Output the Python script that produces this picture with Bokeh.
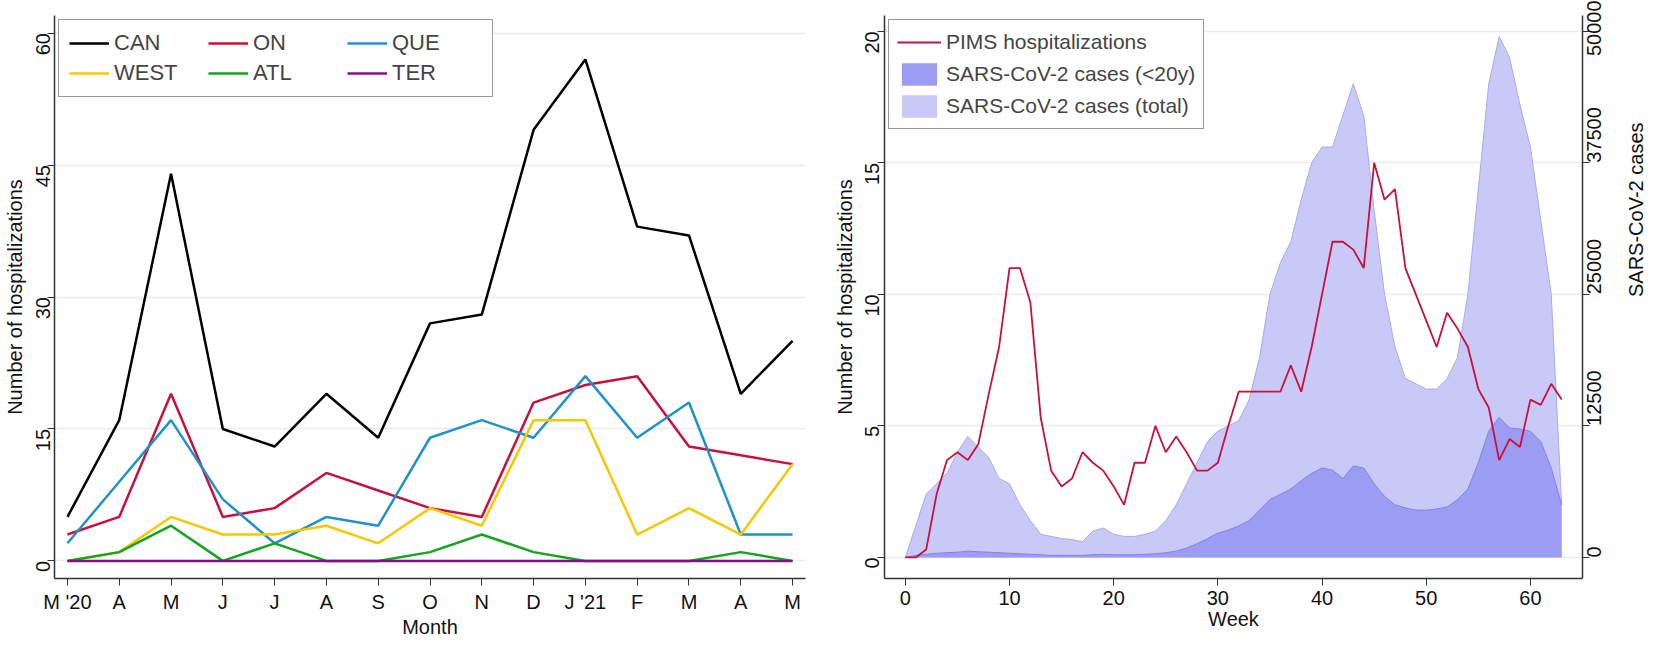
from math import pi
from bokeh.plotting import figure
from bokeh.models import Range1d, LinearAxis, Legend, LegendItem, FixedTicker
from bokeh.layouts import row
from bokeh.embed import file_html
from bokeh.resources import INLINE

# left panel: monthly hospitalizations by region
months = ["M '20", "A", "M", "J", "J", "A", "S", "O", "N", "D", "J '21", "F", "M", "A", "M"]
can = [5, 16, 44, 15, 13, 19, 14, 27, 28, 49, 57, 38, 37, 19, 25]
on = [3, 5, 19, 5, 6, 10, 8, 6, 5, 18, 20, 21, 13, 12, 11]
que = [2, 9, 16, 7, 2, 5, 4, 14, 16, 14, 21, 14, 18, 3, 3]
west = [0, 1, 5, 3, 3, 4, 2, 6, 4, 16, 16, 3, 6, 3, 11]
atl = [0, 1, 4, 0, 2, 0, 0, 1, 3, 1, 0, 0, 0, 1, 0]
ter = [0] * 15

# right panel: weekly PIMS hospitalizations and SARS-CoV-2 cases
weeks = list(range(64))
pims = [0, 0, 0.3, 2.4, 3.7, 4.0, 3.7, 4.3, 6.2, 8.0, 11, 11, 9.7, 5.3, 3.3, 2.7,
        3.0, 4.0, 3.6, 3.3, 2.7, 2.0, 3.6, 3.6, 5.0, 4.0, 4.6, 4.0, 3.3, 3.3, 3.6, 5.0,
        6.3, 6.3, 6.3, 6.3, 6.3, 7.3, 6.3, 8.0, 10, 12, 12, 11.7, 11, 15, 13.6, 14,
        11, 10, 9, 8, 9.3, 8.7, 8.0, 6.4, 5.7, 3.7, 4.5, 4.2, 6.0, 5.8, 6.6, 6.0]
cases_total = [0, 3000, 6000, 7000, 8000, 10000, 11500, 10500, 9500, 7500, 7000, 5000,
               3500, 2200, 2000, 1800, 1700, 1500, 2500, 2800, 2200, 2000, 2000, 2200,
               2500, 3500, 5000, 7000, 9000, 11000, 12000, 12500, 13000, 15000, 19000,
               25000, 28000, 30000, 34000, 37500, 39000, 39000, 42000, 45000, 42000,
               33000, 25000, 20000, 17000, 16500, 16000, 16000, 17000, 19000, 25000,
               35000, 45000, 49500, 47500, 43000, 39000, 32000, 25000, 5000]
cases_u20 = [0, 200, 300, 400, 450, 500, 600, 550, 500, 450, 400, 350, 300, 250, 200,
             200, 200, 200, 250, 300, 250, 250, 250, 300, 350, 450, 600, 900, 1300,
             1800, 2300, 2600, 3000, 3500, 4500, 5500, 6000, 6500, 7300, 8000, 8500,
             8300, 7500, 8700, 8500, 7000, 5800, 5000, 4700, 4500, 4500, 4600, 4800,
             5500, 6500, 9000, 12000, 13300, 12300, 12200, 12000, 11000, 8500, 5000]

FONT = "Liberation Sans"


def style(p):
    p.background_fill_color = "white"
    p.border_fill_color = "white"
    p.outline_line_color = None
    p.xgrid.visible = False
    p.ygrid.grid_line_color = "#ececec"
    p.ygrid.grid_line_width = 1.5
    for ax in p.xaxis + p.yaxis:
        ax.axis_line_color = "#333333"
        ax.axis_line_width = 1.5
        ax.major_tick_line_color = "#333333"
        ax.minor_tick_line_color = None
        ax.major_tick_out = 7
        ax.major_tick_in = 0
        ax.major_label_text_font = FONT
        ax.major_label_text_font_size = "20px"
        ax.major_label_text_color = "#111111"
        ax.axis_label_text_font = FONT
        ax.axis_label_text_font_size = "20px"
        ax.axis_label_text_font_style = "normal"
        ax.axis_label_text_color = "#111111"
        ax.axis_label_standoff = 0


x = list(range(len(months)))
p1 = figure(width=830, height=640, output_backend="svg", toolbar_location=None,
            x_range=Range1d(-0.25, 14.25), y_range=Range1d(-2, 62),
            min_border_left=5, min_border_right=25, min_border_top=15)
style(p1)
p1.xaxis.ticker = FixedTicker(ticks=x)
p1.xaxis.major_label_overrides = {i: m for i, m in enumerate(months)}
p1.xaxis.axis_label = "Month"
p1.yaxis.ticker = FixedTicker(ticks=[0, 15, 30, 45, 60])
p1.yaxis.major_label_orientation = pi / 2
p1.yaxis.axis_label = "Number of hospitalizations"

series = [("CAN", can, "black"), ("ON", on, "#c8103e"), ("QUE", que, "#1f93c8"),
          ("WEST", west, "#f5c800"), ("ATL", atl, "#12a51e"), ("TER", ter, "#8a0a8a")]
items = []
for name, ys, col in series:
    r = p1.line(x, ys, line_color=col, line_width=2.5)
    items.append(LegendItem(label=name, renderers=[r]))
leg1 = Legend(items=items, location="top_left", ncols=3, orientation="horizontal",
              label_text_font=FONT, label_text_font_size="22px", glyph_width=40,
              label_width=90, spacing=4, padding=10, margin=4,
              border_line_color="#333333", border_line_width=1.5)
p1.add_layout(leg1)

p2 = figure(width=830, height=640, output_backend="svg", toolbar_location=None,
            x_range=Range1d(-2, 65), y_range=Range1d(-0.8, 20.6),
            min_border_left=10, min_border_right=5, min_border_top=15)
p2.extra_y_ranges = {"cases": Range1d(-2000, 51500)}
style(p2)
r_tot = p2.varea(weeks, y1=0, y2=cases_total, y_range_name="cases",
                 fill_color="#c9c9f7", fill_alpha=1)
p2.line(weeks, cases_total, y_range_name="cases", line_color="#a9a9ef", line_width=1)
r_u20 = p2.varea(weeks, y1=0, y2=cases_u20, y_range_name="cases",
                 fill_color="#9c9cf3", fill_alpha=1)
p2.line(weeks, cases_u20, y_range_name="cases", line_color="#8282ea", line_width=1)
r_pims = p2.line(weeks, pims, line_color="#c8103e", line_width=1.8)

ax2 = LinearAxis(y_range_name="cases", axis_label="SARS-CoV-2 cases",
                 ticker=FixedTicker(ticks=[0, 12500, 25000, 37500, 50000]))
p2.add_layout(ax2, "right")
style(p2)
ax2.axis_label_orientation = pi / 2
ax2.axis_label_standoff = 24
p2.xaxis.ticker = FixedTicker(ticks=[0, 10, 20, 30, 40, 50, 60])
p2.xaxis.axis_label = "Week"
p2.yaxis[0].ticker = FixedTicker(ticks=[0, 5, 10, 15, 20])
p2.yaxis[0].axis_label = "Number of hospitalizations"
for ax in p2.yaxis:
    ax.major_label_orientation = pi / 2

leg2 = Legend(items=[LegendItem(label="PIMS hospitalizations", renderers=[r_pims]),
                     LegendItem(label="SARS-CoV-2 cases (<20y)", renderers=[r_u20]),
                     LegendItem(label="SARS-CoV-2 cases (total)", renderers=[r_tot])],
              location="top_left", label_text_font=FONT, label_text_font_size="21px",
              glyph_width=44, glyph_height=28, spacing=4, padding=8, margin=4,
              border_line_color="#333333", border_line_width=1.5)
p2.add_layout(leg2)

layout = row(p1, p2)
open("out.html", "w").write(file_html(layout, INLINE))
